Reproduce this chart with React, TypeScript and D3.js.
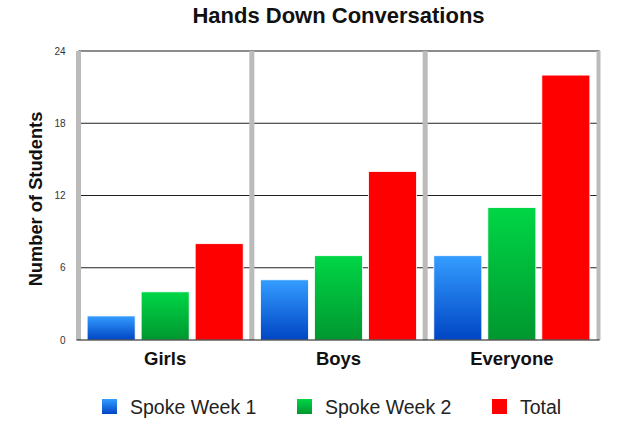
import { useEffect, useRef } from 'react'
import * as d3 from 'd3'

const categories = ['Girls', 'Boys', 'Everyone']
const seriesNames = ['Spoke Week 1', 'Spoke Week 2', 'Total']
const week1 = [2, 5, 7]
const week2 = [4, 7, 11]
const total = [8, 14, 22]
const yTicks = [0, 6, 12, 18, 24]

const W = 634, H = 431
const X0 = 78.5, X1 = 598.5
const Y0 = 340, Y1 = 51
const FONT = 'Liberation Sans, Arial, Helvetica, sans-serif'

// gradient stops per series (top -> bottom); red is flat
const fills = [
  ['#349dff', '#0045c4'],
  ['#00d646', '#00972f'],
  ['#ff0000', '#ff0000'],
]

export default function App() {
  const svgRef = useRef<SVGSVGElement>(null)

  useEffect(() => {
    const svg = d3.select(svgRef.current)
    svg.selectAll('*').remove()
    svg.attr('viewBox', `0 0 ${W} ${H}`)

    const values = [week1, week2, total]

    const x = d3.scaleBand<string>().domain(categories).range([X0, X1]).padding(0)
    const xs = d3.scaleBand<string>().domain(seriesNames)
      .range([0, x.bandwidth()]).paddingInner(0.111).paddingOuter(0.16)
    const y = d3.scaleLinear().domain([0, 24]).range([Y0, Y1])

    const defs = svg.append('defs')
    fills.forEach((f, i) => {
      const lg = defs.append('linearGradient').attr('id', `grad${i}`)
        .attr('x1', 0).attr('y1', 0).attr('x2', 0).attr('y2', 1)
      lg.append('stop').attr('offset', '0%').attr('stop-color', f[0])
      lg.append('stop').attr('offset', '100%').attr('stop-color', f[1])
    })

    // grid lines
    svg.append('g').selectAll('line')
      .data(yTicks.filter((t) => t > 0 && t < 24))
      .join('line')
      .attr('x1', X0).attr('x2', X1 + 1)
      .attr('y1', (d) => y(d)).attr('y2', (d) => y(d))
      .attr('stroke', '#222').attr('stroke-width', 1)

    svg.append('line')
      .attr('x1', X0).attr('x2', X1 + 1)
      .attr('y1', y(24)).attr('y2', y(24))
      .attr('stroke', '#666').attr('stroke-width', 1.6)

    // separators between groups
    const edges = categories.map((c) => x(c)!).concat([X1])
    svg.append('g').selectAll('line')
      .data(edges)
      .join('line')
      .attr('x1', (d) => d).attr('x2', (d) => d)
      .attr('y1', y(24)).attr('y2', Y0)
      .attr('stroke', '#bbbbbb').attr('stroke-width', (d, i) => (i === edges.length - 1 ? 4 : 5))

    // bars
    categories.forEach((c, ci) => {
      svg.append('g').selectAll('rect')
        .data(seriesNames)
        .join('rect')
        .attr('x', (s) => x(c)! + xs(s)!)
        .attr('width', xs.bandwidth())
        .attr('y', (s, si) => y(values[si][ci]))
        .attr('height', (s, si) => Y0 - y(values[si][ci]))
        .attr('fill', (s, si) => `url(#grad${si})`)
        .attr('stroke', '#ffffff').attr('stroke-width', 0.8)
    })

    // baseline
    svg.append('line')
      .attr('x1', X0 - 2).attr('x2', X1 + 1)
      .attr('y1', Y0).attr('y2', Y0)
      .attr('stroke', '#111').attr('stroke-width', 1.2)

    // y axis tick labels
    const ay = svg.append('g').attr('transform', `translate(${X0},0)`)
      .call(d3.axisLeft(y).tickValues(yTicks).tickSize(0).tickPadding(13))
    ay.select('.domain').remove()
    ay.selectAll('text').attr('font-family', FONT).attr('font-size', 10).attr('fill', '#333')

    // category labels
    svg.append('g').selectAll('text')
      .data(categories)
      .join('text')
      .attr('x', (c) => x(c)! + x.bandwidth() / 2)
      .attr('y', 365)
      .attr('text-anchor', 'middle')
      .attr('font-family', FONT).attr('font-weight', 'bold').attr('font-size', 18.5)
      .attr('fill', '#111')
      .text((c) => c)

    // title
    svg.append('text')
      .attr('x', (X0 + X1) / 2).attr('y', 23)
      .attr('text-anchor', 'middle')
      .attr('font-family', FONT).attr('font-weight', 'bold').attr('font-size', 22)
      .attr('fill', '#111')
      .text('Hands Down Conversations')

    // y axis label
    svg.append('text')
      .attr('transform', 'rotate(-90)')
      .attr('x', -199).attr('y', 42)
      .attr('text-anchor', 'middle')
      .attr('font-family', FONT).attr('font-weight', 'bold').attr('font-size', 18.3)
      .attr('fill', '#111')
      .text('Number of Students')

    // legend
    const legendX = [102, 297, 492]
    const lg = svg.append('g').selectAll('g')
      .data(seriesNames)
      .join('g')
      .attr('transform', (s, i) => `translate(${legendX[i]},399)`)
    lg.append('rect')
      .attr('width', 15).attr('height', 15)
      .attr('fill', (s, i) => `url(#grad${i})`)
    lg.append('text')
      .attr('x', 28).attr('y', 14.5)
      .attr('font-family', FONT).attr('font-size', 19.5).attr('fill', '#222')
      .text((s) => s)
  }, [])

  return (
    <svg
      ref={svgRef}
      width={W}
      height={H}
      style={{ position: 'absolute', left: 0, top: 0, background: '#fff' }}
    />
  )
}
